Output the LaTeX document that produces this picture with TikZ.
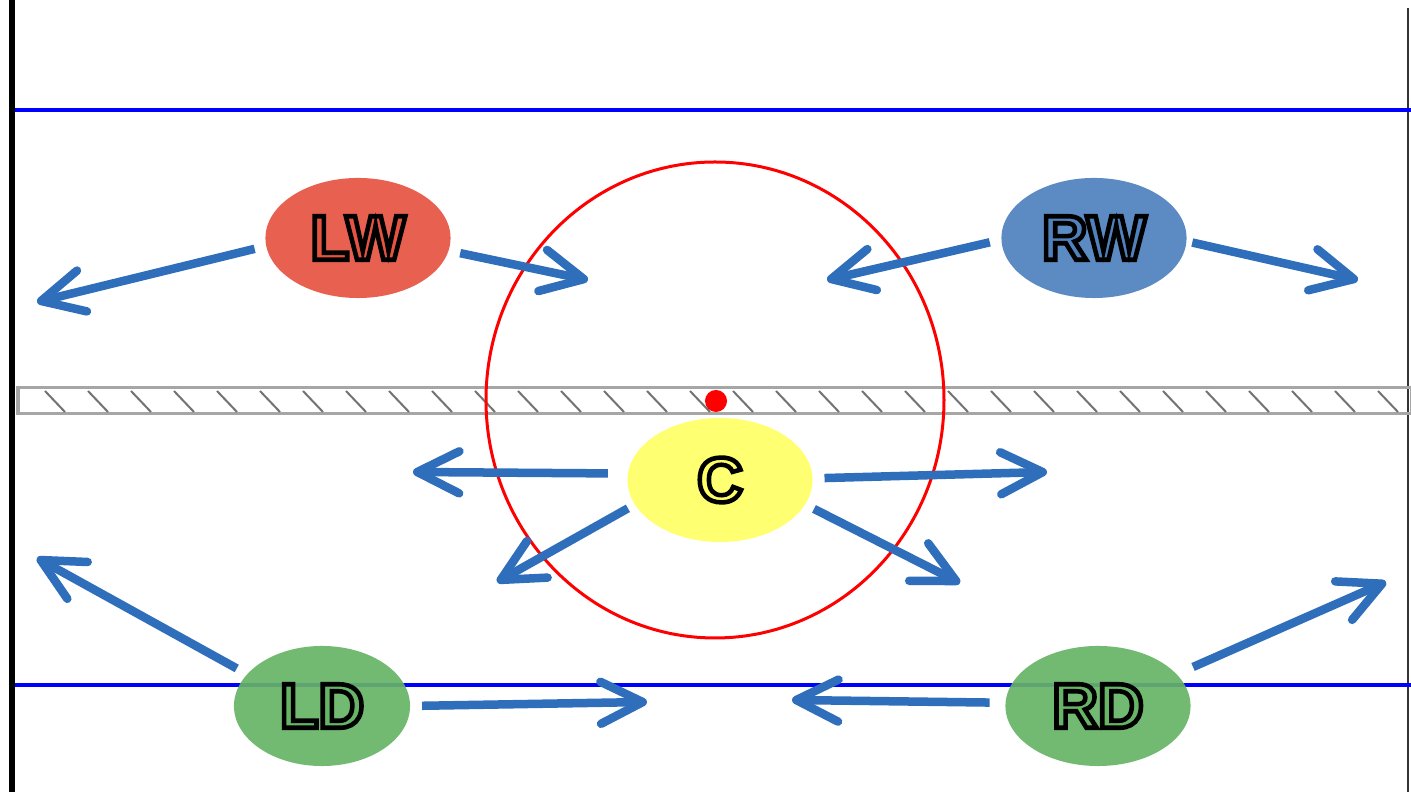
\documentclass[tikz,border=0pt]{standalone}
\usepackage{fontspec}
\setmainfont{Liberation Sans}
\usetikzlibrary{arrows.meta,shapes.geometric}
\definecolor{rojo}{RGB}{231,83,66}
\definecolor{azul}{RGB}{79,129,189}
\definecolor{amarillo}{RGB}{255,255,102}
\definecolor{verde}{RGB}{103,180,103}
\definecolor{azulflecha}{RGB}{47,110,186}
% letras con contorno negro (relleno + trazo)
\newcommand\letrahueca[2]{\special{pdf:code q 2 Tr 1.3 w}\textcolor{#1}{\special{pdf:code 0 G}#2}\special{pdf:code Q}}
\begin{document}
\begin{tikzpicture}[x=0.01cm, y=-0.01cm,
  jugador/.style={ellipse, minimum width=1.85cm, minimum height=1.2cm, inner sep=0pt, outer sep=0pt,
    fill opacity=0.92, text opacity=1, font=\fontsize{18}{20}\selectfont\bfseries},
  flecha/.style={line width=0.085cm, azulflecha,
    -{Straight Barb[length=0.42cm, width=0.42cm, line cap=round, line join=round]}, shorten <=0.12cm},
  trama/.style={gray!90!black, line width=0.02cm}]
\useasboundingbox[fill=white] (0,0) rectangle (1411,792);
% Bordes
\draw[line width=0.06cm] (12,0) -- (12,792);
\draw[black!80, line width=0.02cm] (1408,8) -- (1408,792);
% Lineas azules
\draw[blue, line width=0.035cm] (15,110) -- (1411,110);
\draw[blue, line width=0.035cm] (15,685) -- (1411,685);
% Linea central
\draw[gray!70, line width=0.03cm] (18,388) rectangle (1411,414);
\foreach \x in {45,88,...,1390}
  \draw[trama] (\x,391) -- ++(20,21);
% Circulo central
\draw[red, line width=0.03cm] (715,400) ellipse (229 and 238);
\fill[red] (716,401) circle (0.11cm);
% Jugadores
\node[jugador, fill=rojo] (LW) at (358,238) {\letrahueca{rojo}{LW}};
\node[jugador, fill=azul] (RW) at (1094,238) {\letrahueca{azul}{RW}};
\node[jugador, fill=amarillo, minimum height=1.24cm] (C) at (720,480) {\letrahueca{amarillo}{C}};
\node[jugador, fill=verde, minimum width=1.76cm] (LD) at (322,706) {\letrahueca{verde}{LD}};
\node[jugador, fill=verde] (RD) at (1098,706) {\letrahueca{verde}{RD}};
% Puntas de las flechas
\coordinate (t1) at (37,302);
\coordinate (t2) at (588,280);
\coordinate (t3) at (827,280);
\coordinate (t4) at (1358,280);
\coordinate (t5) at (413,472);
\coordinate (t6) at (1047,472);
\coordinate (t7) at (497,582);
\coordinate (t8) at (960,583);
\coordinate (t9) at (37,558);
\coordinate (t10) at (647,702);
\coordinate (t11) at (792,700);
\coordinate (t12) at (1386,582);
% Movimientos
\draw[flecha] (LW.185) -- (t1);
\draw[flecha] (LW.352) -- (t2);
\draw[flecha] (RW.181) -- (t3);
\draw[flecha, shorten <=0.06cm] (RW.358) -- (t4);
\draw[flecha, shorten <=0.2cm] (C.176) -- (t5);
\draw[flecha] (C.1) -- (t6);
\draw[flecha, shorten <=0.08cm] (C.196) -- (t7);
\draw[flecha, shorten <=0.1cm] (C.344) -- (t8);
\draw[flecha] (LD.157) -- (t9);
\draw[flecha] (LD.0) -- (t10);
\draw[flecha, shorten <=0.16cm] (RD.178) -- (t11);
\draw[flecha, shorten <=0.18cm] (RD.22) -- (t12);
\end{tikzpicture}
\end{document}
